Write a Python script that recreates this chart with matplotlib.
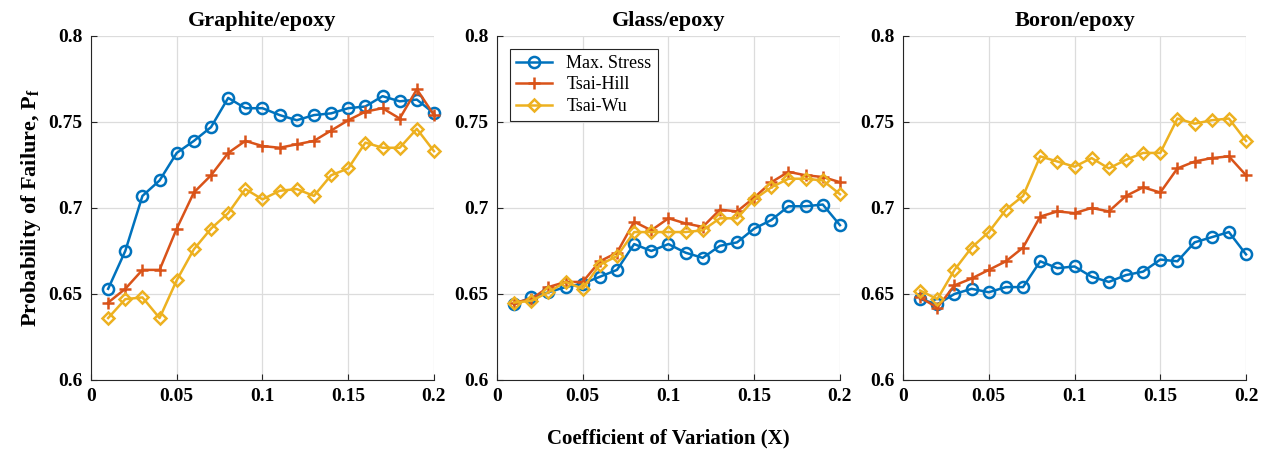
import matplotlib.pyplot as plt
import numpy as np

plt.rcParams['font.family'] = 'Liberation Serif'
plt.rcParams['mathtext.fontset'] = 'custom'
plt.rcParams['mathtext.rm'] = 'Liberation Serif'
plt.rcParams['mathtext.bf'] = 'Liberation Serif:bold'

cov = [0.01, 0.02, 0.03, 0.04, 0.05, 0.06, 0.07, 0.08, 0.09, 0.10,
       0.11, 0.12, 0.13, 0.14, 0.15, 0.16, 0.17, 0.18, 0.19, 0.20]

titles = ['Graphite/epoxy', 'Glass/epoxy', 'Boron/epoxy']
criteria = ['Max. Stress', 'Tsai-Hill', 'Tsai-Wu']

# graphite/epoxy
graphite_ms = [0.653, 0.675, 0.707, 0.716, 0.732, 0.739, 0.747, 0.764, 0.758, 0.758,
               0.754, 0.751, 0.754, 0.755, 0.758, 0.759, 0.765, 0.762, 0.763, 0.755]
graphite_th = [0.645, 0.653, 0.664, 0.664, 0.688, 0.709, 0.719, 0.732, 0.739, 0.736,
               0.735, 0.737, 0.739, 0.745, 0.751, 0.756, 0.758, 0.752, 0.769, 0.754]
graphite_tw = [0.636, 0.647, 0.648, 0.636, 0.658, 0.676, 0.688, 0.697, 0.711, 0.705,
               0.710, 0.711, 0.707, 0.719, 0.723, 0.738, 0.735, 0.735, 0.746, 0.733]

# glass/epoxy
glass_ms = [0.644, 0.648, 0.651, 0.654, 0.656, 0.660, 0.664, 0.679, 0.675, 0.679,
            0.674, 0.671, 0.678, 0.680, 0.688, 0.693, 0.701, 0.701, 0.702, 0.690]
glass_th = [0.645, 0.647, 0.654, 0.657, 0.657, 0.669, 0.674, 0.692, 0.687, 0.694,
            0.691, 0.689, 0.699, 0.698, 0.706, 0.715, 0.721, 0.719, 0.718, 0.715]
glass_tw = [0.645, 0.646, 0.651, 0.657, 0.653, 0.667, 0.672, 0.686, 0.686, 0.686,
            0.686, 0.687, 0.694, 0.694, 0.705, 0.712, 0.717, 0.717, 0.716, 0.708]

# boron/epoxy
boron_ms = [0.647, 0.644, 0.650, 0.653, 0.651, 0.654, 0.654, 0.669, 0.665, 0.666,
            0.660, 0.657, 0.661, 0.663, 0.670, 0.669, 0.680, 0.683, 0.686, 0.673]
boron_th = [0.648, 0.642, 0.655, 0.659, 0.664, 0.669, 0.677, 0.695, 0.698, 0.697,
            0.700, 0.698, 0.707, 0.712, 0.709, 0.723, 0.727, 0.729, 0.730, 0.719]
boron_tw = [0.652, 0.647, 0.664, 0.677, 0.686, 0.699, 0.707, 0.730, 0.727, 0.724,
            0.729, 0.723, 0.728, 0.732, 0.732, 0.752, 0.749, 0.751, 0.752, 0.739]

panels = [(graphite_ms, graphite_th, graphite_tw),
          (glass_ms, glass_th, glass_tw),
          (boron_ms, boron_th, boron_tw)]

colors = ['#0072BD', '#D95319', '#EDB120']
markers = ['o', '+', 'D']
msizes = [8, 8, 6.5]

fig = plt.figure(figsize=(12.69, 4.5), dpi=100)
lefts = [0.0717, 0.3916, 0.7116]

for i, (left, data) in enumerate(zip(lefts, panels)):
    ax = fig.add_axes([left, 0.1556, 0.2703, 0.7645])
    for vals, lab, c, m, ms in zip(data, criteria, colors, markers, msizes):
        ax.plot(cov, vals, color=c, marker=m, markersize=ms, clip_on=False,
                markerfacecolor='none', markeredgewidth=1.8, linewidth=1.8, label=lab)
    ax.set_xlim(0, 0.2)
    ax.set_ylim(0.6, 0.8)
    ax.set_xticks([0, 0.05, 0.1, 0.15, 0.2])
    ax.set_xticklabels(['0', '0.05', '0.1', '0.15', '0.2'])
    ax.set_yticks([0.6, 0.65, 0.7, 0.75, 0.8])
    ax.set_yticklabels(['0.6', '0.65', '0.7', '0.75', '0.8'])
    ax.grid(True, color='#dcdcdc', linewidth=0.9)
    ax.set_axisbelow(True)
    ax.spines['top'].set_visible(False)
    ax.spines['right'].set_visible(False)
    ax.spines['left'].set_color('#262626')
    ax.spines['bottom'].set_color('#262626')
    ax.tick_params(direction='in', length=4, width=0.8, labelsize=14, pad=6, colors='#262626')
    for t in ax.get_xticklabels() + ax.get_yticklabels():
        t.set_fontweight('bold')
        t.set_color('black')
    ax.set_title(titles[i], fontsize=16, fontweight='bold', pad=7)
    if i == 0:
        ax.set_ylabel(r'Probability of Failure, $\mathbf{P_f}$', fontsize=16,
                      fontweight='bold', labelpad=4)
    if i == 1:
        ax.set_xlabel('Coefficient of Variation (X)', fontsize=15, fontweight='bold', labelpad=17)
        leg = ax.legend(loc='upper left', fontsize=13, frameon=True, fancybox=False,
                        edgecolor='#262626', framealpha=1, handlelength=2.0,
                        borderaxespad=0.7, labelspacing=0.25, borderpad=0.35)
        leg.get_frame().set_linewidth(0.8)

fig.savefig('out.png', dpi=100)
